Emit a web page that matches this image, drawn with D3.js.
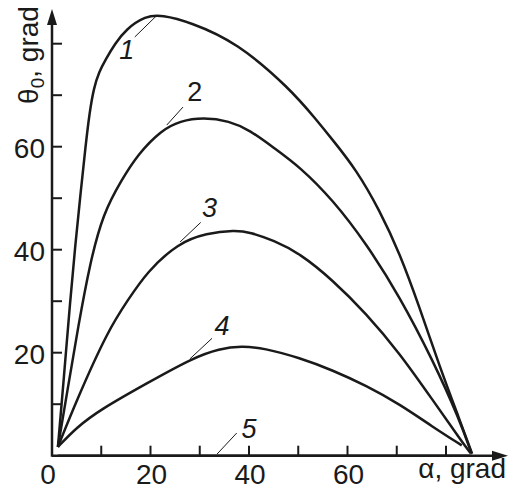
<!DOCTYPE html>
<html>
<head>
<meta charset="utf-8">
<script src="https://cdn.jsdelivr.net/npm/d3@7"></script>
<style>
  body { margin: 0; background: #fff; }
  text { font-family: "Liberation Sans", Arial, sans-serif; fill: #1a1a1a; }
</style>
</head>
<body>
<svg id="chart"></svg>
<script>
// curves theta0(alpha), [alpha, theta]
const curve1 = [[1.2,1.7],[2.4,15],[3.7,30.2],[4.7,40.6],[5.8,51],[6.8,60],[7.6,66.5],[8.5,71.5],[9.6,74.6],[10.8,76.8],[12.8,80],[15,82.8],[19,85.4],[22.3,85.6],[28,84.2],[37.5,80.3],[48.3,71.3],[53.7,65.2],[57,61.3],[61.8,55.5],[66.5,47.7],[70.6,39.3],[74.6,28.9],[78.7,17.3],[82.8,6.9],[85.3,0.4]];
const curve2 = [[1.2,1.7],[3.2,13],[5.3,25],[7.7,37.4],[10.4,47.1],[14.1,53.5],[17.4,58.5],[22.2,63.2],[26,65],[30.7,65.7],[36,65],[40.2,63.2],[45,59.8],[50.3,56.1],[57,49.7],[63.8,41.2],[70.6,30.9],[77.3,18.6],[82.8,6.9],[85.2,0.4]];
const curve3 = [[1.2,1.7],[5,10.8],[11.4,24.4],[15.4,30.2],[19.3,35.7],[25.6,41.3],[31.4,43.2],[37.1,43.8],[40.2,43.4],[45,41.8],[50.3,39.3],[57,34.1],[63.8,27.6],[70.6,19.9],[77.3,10.8],[83.4,2.5],[85,0.5]];
const curve4 = [[1.2,1.7],[5,5.5],[9.7,8.9],[19.3,14.1],[28.6,19],[34,20.8],[38.5,21.3],[43,20.9],[50.3,19],[57,16.6],[63.8,13.6],[70.6,10],[77.3,5.6],[83.2,2]];
const curve5 = [[1.2,0],[85.2,0]];
const curves = [curve1, curve2, curve3, curve4, curve5];

const curveNames = ["1", "2", "3", "4", "5"];
// leader line: point on curve, end of leader, label centre (alpha, theta)
const leaderFrom = [[21.3,85.5],[23.3,64.2],[26,41.5],[28,18.8],[33.5,0.3]];
const leaderTo   = [[16.8,81.3],[26.6,67.7],[30.2,45.3],[32.5,22.8],[37.5,4.4]];
const labelAt    = [[15.2,79],[29,70.8],[32,48.3],[34.5,25.4],[40,5.4]];

const xTicks = [10, 20, 30, 40, 50, 60, 70, 80];
const xLabels = [0, 20, 40, 60];
const yTicks = [10, 20, 30, 40, 50, 60, 70, 80];
const yLabels = [20, 40, 60];

const W = 513, H = 490;
const svg = d3.select("#chart").attr("width", W).attr("height", H);

const x = d3.scaleLinear().domain([0, 80]).range([52, 446]);
const y = d3.scaleLinear().domain([0, 80]).range([455.7, 43.7]);

const ink = "#1a1a1a";

// ticks (pointing inward)
svg.append("g").selectAll("line").data(xTicks).enter().append("line")
  .attr("x1", d => x(d)).attr("x2", d => x(d))
  .attr("y1", y(0)).attr("y2", y(0) - 10)
  .attr("stroke", ink).attr("stroke-width", 2);
svg.append("g").selectAll("line").data(yTicks).enter().append("line")
  .attr("y1", d => y(d)).attr("y2", d => y(d))
  .attr("x1", x(0)).attr("x2", x(0) + 10)
  .attr("stroke", ink).attr("stroke-width", 2);

// tick labels
svg.append("g").selectAll("text").data(xLabels).enter().append("text")
  .attr("x", d => d === 0 ? x(d) - 4 : x(d) + 1)
  .attr("y", 484)
  .attr("text-anchor", "middle")
  .style("font-size", "28px")
  .text(d => d);
svg.append("g").selectAll("text").data(yLabels).enter().append("text")
  .attr("x", 45)
  .attr("y", d => y(d) + 11)
  .attr("text-anchor", "end")
  .style("font-size", "28px")
  .text(d => d);

// axes with arrows
svg.append("line").attr("x1", x(0)).attr("x2", 500).attr("y1", y(0)).attr("y2", y(0))
  .attr("stroke", ink).attr("stroke-width", 2.5);
svg.append("line").attr("x1", x(0)).attr("x2", x(0)).attr("y1", y(0) + 1).attr("y2", 18)
  .attr("stroke", ink).attr("stroke-width", 2.5);
svg.append("path").attr("d", `M508,${y(0)} L492,${y(0) - 5} L492,${y(0) + 5} Z`).attr("fill", ink);
svg.append("path").attr("d", `M${x(0)},9 L${x(0) - 5},25 L${x(0) + 5},25 Z`).attr("fill", ink);

// axis titles
const yt = svg.append("text")
  .attr("transform", "translate(38,55) rotate(-90)")
  .attr("text-anchor", "middle")
  .style("font-size", "28px");
yt.append("tspan").text("\u03b8");
yt.append("tspan").attr("dy", 6).style("font-size", "19px").text("0");
yt.append("tspan").attr("dy", -6).text(", grad");

svg.append("text").attr("x", 506).attr("y", 478)
  .attr("text-anchor", "end")
  .style("font-size", "28px")
  .text("\u03b1, grad");

// curves
const line = d3.line()
  .x(d => x(d[0])).y(d => y(d[1]))
  .curve(d3.curveBasis);

svg.append("g").selectAll("path").data(curves).enter().append("path")
  .attr("d", line)
  .attr("fill", "none")
  .attr("stroke", ink)
  .attr("stroke-width", 2.5)
  .attr("stroke-linejoin", "round");

// leader lines and curve numbers
svg.append("g").selectAll("line").data(curveNames).enter().append("line")
  .attr("x1", (d, i) => x(leaderFrom[i][0])).attr("y1", (d, i) => y(leaderFrom[i][1]))
  .attr("x2", (d, i) => x(leaderTo[i][0])).attr("y2", (d, i) => y(leaderTo[i][1]))
  .attr("stroke", ink).attr("stroke-width", 1);

svg.append("g").selectAll("text").data(curveNames).enter().append("text")
  .attr("x", (d, i) => x(labelAt[i][0]))
  .attr("y", (d, i) => y(labelAt[i][1]) + 10)
  .attr("text-anchor", "middle")
  .style("font-size", "27px")
  .style("font-style", d => d === "2" ? "normal" : "italic")
  .text(d => d);
</script>
</body>
</html>
